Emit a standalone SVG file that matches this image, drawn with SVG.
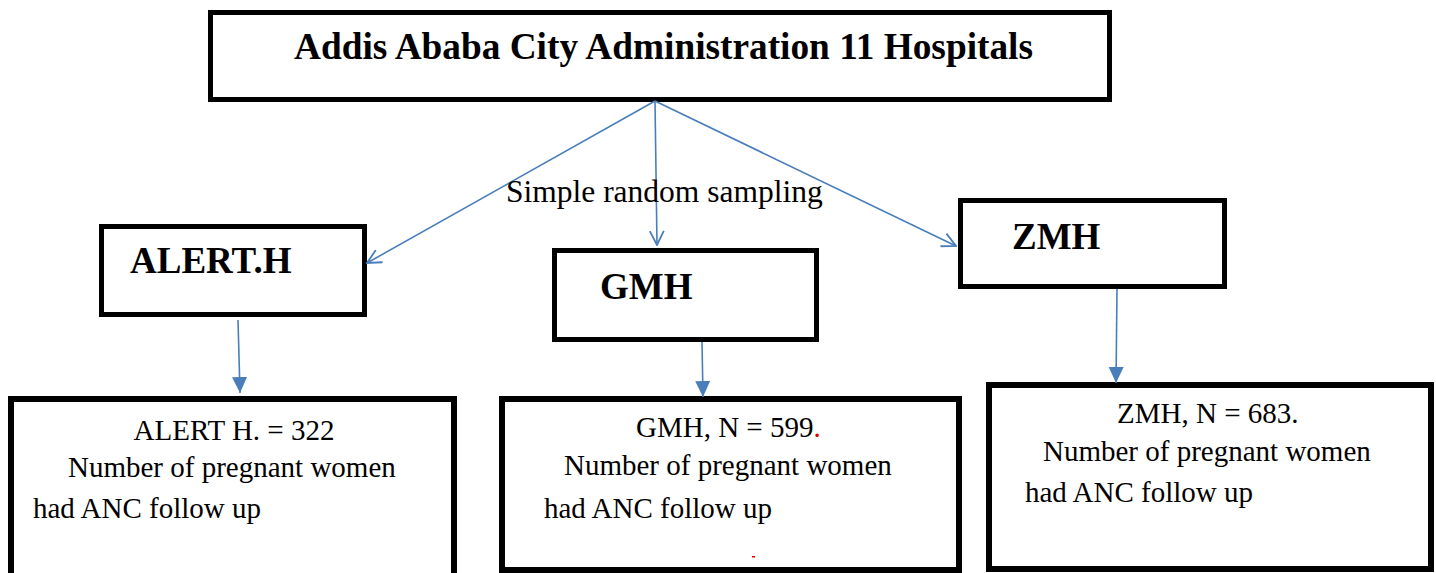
<svg xmlns="http://www.w3.org/2000/svg" width="1436" height="573" viewBox="0 0 1436 573">
<style>
.box{fill:#fff;stroke:#000;stroke-width:5}
.bbox{fill:#fff;stroke:#000;stroke-width:6}
text{font-family:'Liberation Serif','Times New Roman',Times,'DejaVu Serif',serif}
.title{font-weight:bold;font-size:37.3px}
.hname{font-weight:bold;font-size:37px}
.txt{font-size:29px}
.lbl{font-size:31.5px}
.con{fill:none;stroke:#4A7EBB;stroke-width:1.6}
</style>
<defs>
<marker id="open" markerUnits="userSpaceOnUse" viewBox="0 0 16 16" refX="15" refY="8" markerWidth="16" markerHeight="16" orient="auto">
<path d="M1,1 L15,8 L1,15" fill="none" stroke="#4A7EBB" stroke-width="1.8"/>
</marker>
<marker id="fill" markerUnits="userSpaceOnUse" viewBox="0 0 16 16" refX="16" refY="8" markerWidth="16" markerHeight="16" orient="auto">
<path d="M0,0.5 L16,8 L0,15.5 Z" fill="#4A7EBB"/>
</marker>
</defs>
<g id="top">
<rect class="box" x="210.5" y="12.5" width="899" height="87"/>
<text class="title" x="663.5" y="59" text-anchor="middle" font-family="Liberation Serif, serif">Addis Ababa City Administration 11 Hospitals</text>
</g>
<g id="alert">
<rect class="box" x="101.5" y="226.5" width="263" height="88"/>
<text class="hname" x="130" y="273">ALERT.H</text>
</g>
<g id="gmh">
<rect class="box" x="554.5" y="250.5" width="262" height="89"/>
<text class="hname" x="600" y="299">GMH</text>
</g>
<g id="zmh">
<rect class="box" x="960.5" y="200.5" width="264" height="86"/>
<text class="hname" x="1012" y="249">ZMH</text>
</g>
<g id="alert-n">
<rect class="bbox" x="11" y="399" width="443" height="180"/>
<text class="txt" x="234" y="440" text-anchor="middle">ALERT H. = 322</text>
<text class="txt" x="68" y="477">Number of pregnant women</text>
<text class="txt" x="33" y="518">had ANC follow up</text>
</g>
<g id="gmh-n">
<rect class="bbox" x="502" y="399" width="457" height="171"/>
<text class="txt" x="636" y="437">GMH, N = 599<tspan fill="#e00000">.</tspan></text>
<text class="txt" x="564" y="475">Number of pregnant women</text>
<text class="txt" x="544" y="518">had ANC follow up</text>
<rect x="752" y="556" width="3" height="1.5" fill="#e00000"/>
</g>
<g id="zmh-n">
<rect class="bbox" x="989" y="385" width="442" height="184"/>
<text class="txt" x="1117" y="423">ZMH, N = 683.</text>
<text class="txt" x="1043" y="461">Number of pregnant women</text>
<text class="txt" x="1025" y="502">had ANC follow up</text>
</g>
<g id="connectors">
<line class="con" x1="655" y1="101" x2="367" y2="263" marker-end="url(#open)"/>
<line class="con" x1="655" y1="101" x2="657" y2="245" marker-end="url(#open)"/>
<line class="con" x1="655" y1="101" x2="956" y2="246" marker-end="url(#open)"/>
<line class="con" x1="238" y1="320" x2="240" y2="393" marker-end="url(#fill)"/>
<line class="con" x1="702" y1="342" x2="703" y2="397" marker-end="url(#fill)"/>
<line class="con" x1="1117" y1="289" x2="1116" y2="383" marker-end="url(#fill)"/>
</g>
<text class="lbl" x="506" y="202">Simple random sampling</text>
</svg>
